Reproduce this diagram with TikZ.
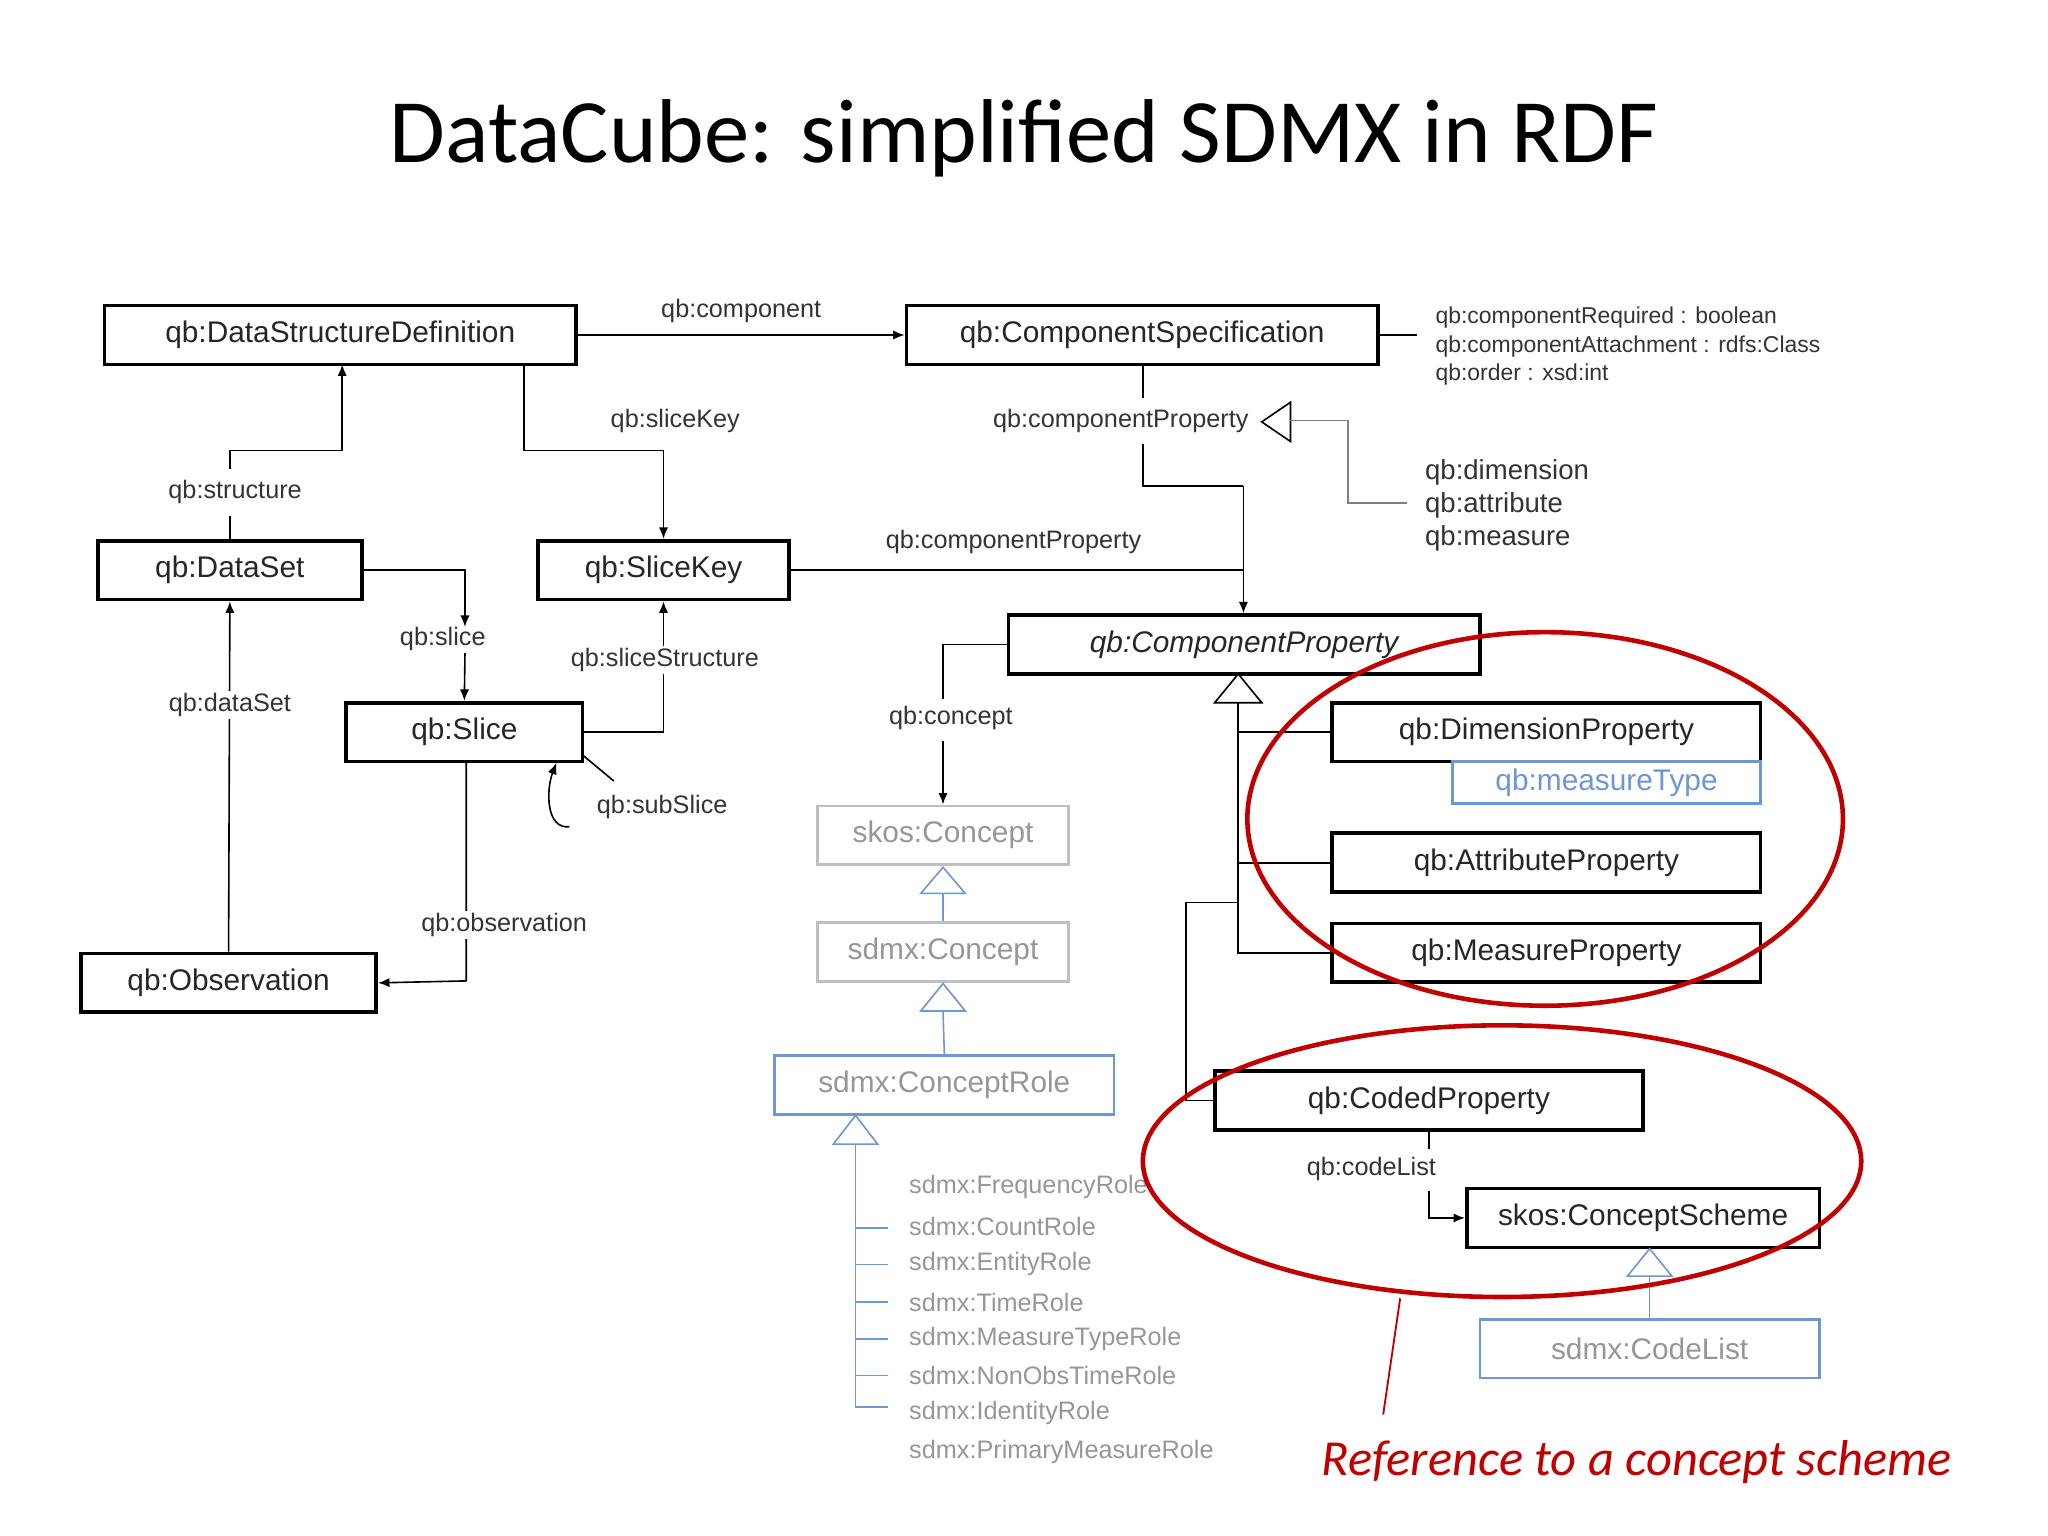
\documentclass[tikz,border=0pt]{standalone}
\usepackage{fontspec}
\setmainfont{Liberation Sans}
\newfontfamily\titlefont{Carlito}
\usetikzlibrary{arrows.meta}
\definecolor{rd}{RGB}{192,0,0}
\definecolor{bl}{RGB}{110,150,210}
\definecolor{gr}{RGB}{150,150,150}
\begin{document}
\begin{tikzpicture}[x=0.02cm,y=-0.02cm,
  box/.style={draw,line width=1.6pt,minimum height=0.9cm,inner sep=0pt,font=\fontsize{13}{15}\selectfont,text=black!85},
  gbox/.style={box,draw=black!25,text=gr,line width=1.2pt},
  bbox/.style={box,draw=bl,text=gr,line width=1.2pt},
  lbl/.style={font=\fontsize{11}{13}\selectfont,text=black!80,inner sep=1pt},
  ln/.style={line width=0.7pt},
  arr/.style={ln,-{Latex[length=5pt,width=4pt]}},
  tri/.style={ln,draw,fill=white}]
\useasboundingbox (0,0) rectangle (1568,1176);
\node[font=\titlefont\fontsize{39.5}{46}\selectfont] (title) at (784,106) {DataCube: simplified SDMX in RDF};
% boxes
\node[box,minimum width=7.22cm] (dsd) at (260.5,256.5) {qb:DataStructureDefinition};
\node[box,minimum width=7.22cm] (cs) at (874.5,256.5) {qb:ComponentSpecification};
\node[box,minimum width=4.04cm] (ds) at (176,436.5) {qb:DataSet};
\node[box,minimum width=3.84cm] (sk) at (508,436.5) {qb:SliceKey};
\node[box,minimum width=3.62cm] (sl) at (355.5,560.5) {qb:Slice};
\node[box,minimum width=4.52cm] (obs) at (175,752.5) {qb:Observation};
\node[box,minimum width=7.22cm,font=\fontsize{13}{15}\selectfont\itshape] (cp) at (952.5,493.5) {qb:ComponentProperty};
\node[box,minimum width=6.56cm] (dp) at (1184,560.5) {qb:DimensionProperty};
\node[box,draw=bl,text=bl,line width=1.2pt,minimum width=4.72cm,minimum height=0.64cm] (mt) at (1230,599) {qb:measureType};
\node[box,minimum width=6.56cm] (ap) at (1184,660.5) {qb:AttributeProperty};
\node[box,minimum width=6.56cm] (mp) at (1184,729.5) {qb:MeasureProperty};
\node[box,minimum width=6.56cm] (cdp) at (1094,842.5) {qb:CodedProperty};
\node[box,minimum width=5.4cm] (csch) at (1258,932.5) {skos:ConceptScheme};
\node[bbox,minimum width=5.2cm] (cl) at (1263,1032.5) {sdmx:CodeList};
\node[gbox,minimum width=3.84cm] (skc) at (722,639.5) {skos:Concept};
\node[gbox,minimum width=3.84cm] (sdc) at (722,729) {sdmx:Concept};
\node[bbox,minimum width=5.2cm] (cr) at (723,830.5) {sdmx:ConceptRole};
% attribute text
\node[lbl,anchor=west,align=left,font=\fontsize{10}{12.6}\selectfont] (attrs) at (1097,265) {qb:componentRequired : boolean\\qb:componentAttachment : rdfs:Class\\qb:order : xsd:int};
\draw[ln] (cs.east) -- (1085,256.5);
\node[lbl,anchor=west,align=left,font=\fontsize{12}{14.3}\selectfont] (cpk) at (1089,387) {qb:dimension\\qb:attribute\\qb:measure};
% connectors
\draw[arr] (dsd.east) -- (cs.west) node[lbl,midway,above=4pt] {qb:component};
\draw[ln] (875,279) -- (875,305);
\node[lbl,anchor=east] (cplab) at (958,322) {qb:componentProperty};
\draw[tri] (988,308) -- (988,338) -- (966,323) -- cycle;
\draw[ln] (875,340) -- (875,372) -- (952,372);
\draw[arr] (952,372) -- (cp.north-|952,0);
\draw[ln,draw=gray] (988,322) -- (1032,322) -- (1032,385) -- (1077,385);
\draw[arr] (401,279) -- (401,345) -- (508,345) -- (sk.north);
\node[lbl] (skl) at (517,322) {qb:sliceKey};
\draw[ln] (ds.north) -- (176,395);
\node[lbl] (stl) at (180,377) {qb:structure};
\draw[arr] (176,359) -- (176,345) -- (262,345) -- (262,279);
\draw[ln] (sk.east) -- (952,436.5);
\node[lbl] (cpl2) at (776,415) {qb:componentProperty};
\draw[arr] (ds.east) -- (356,436.5) -- (356,480);
\draw[arr] (356,500) -- (sl.north);
\node[lbl] (slab) at (339,489) {qb:slice};
\draw[arr] (sl.east) -- (508,560.5) -- (sk.south);
\node[lbl,fill=white] (ssl) at (509,505) {qb:sliceStructure};
\draw[ln] (446,578) -- (470,598);
\draw[arr] (436,633) .. controls (418,635) and (418,605) .. (426,584);
\node[lbl] (subl) at (507,618) {qb:subSlice};
\draw[arr] (obs.north) -- (ds.south);
\node[lbl,fill=white] (dsl) at (176,540) {qb:dataSet};
\draw[arr] (357,583) -- (357,751) -- (obs.east);
\node[lbl,fill=white] (obsl) at (386,708) {qb:observation};
% concept
\draw[ln] (cp.west) -- (722,493.5) -- (722,535);
\node[lbl] (conl) at (728,550) {qb:concept};
\draw[arr] (722,567) -- (skc.north);
\draw[tri,draw=bl] (722,664) -- (705,684) -- (739,684) -- cycle;
\draw[ln,draw=bl] (722,684) -- (sdc.north);
\draw[tri,draw=bl] (722,753) -- (705,774) -- (739,774) -- cycle;
\draw[ln,draw=bl] (722,774) -- (cr.north);
\draw[tri,draw=bl] (655,854) -- (638,876) -- (672,876) -- cycle;
\draw[ln,draw=bl] (655,876) -- (655,1077) -- (680,1077);
\foreach \y in {940,968,997,1025,1053} \draw[ln,draw=bl] (655,\y) -- (680,\y);
\foreach \t/\y in {FrequencyRole/909,CountRole/939,EntityRole/968,TimeRole/997,MeasureTypeRole/1025,NonObsTimeRole/1053,IdentityRole/1082,PrimaryMeasureRole/1112}
  \node[lbl,anchor=west,text=gr] at (694,\y) {sdmx:\t};
% subclass
\draw[tri] (948,516) -- (930,538) -- (966,538) -- cycle;
\draw[ln] (948,538) -- (948,729.5) -- (mp.west);
\draw[ln] (948,560.5) -- (dp.west);
\draw[ln] (948,660.5) -- (ap.west);
\draw[ln] (948,691) -- (908,691) -- (908,842.5) -- (cdp.west);
\draw[ln] (cdp.south) -- (1094,880);
\node[lbl] (cll) at (1050,895) {qb:codeList};
\draw[arr] (1094,912) -- (1094,932.5) -- (csch.west);
\draw[tri,draw=bl] (1263,956) -- (1246,977) -- (1280,977) -- cycle;
\draw[ln,draw=bl] (1263,977) -- (cl.north);
% red annotation
\draw[rd,line width=2pt] (1183,627) ellipse [x radius=228,y radius=143];
\draw[rd,line width=2pt] (1150,889) ellipse [x radius=275,y radius=104];
\draw[rd,line width=0.8pt] (1072,994) -- (1059,1083);
\node[text=rd,font=\titlefont\itshape\fontsize{22}{26}\selectfont] (ref) at (1253,1119) {Reference to a concept scheme};
\end{tikzpicture}
\end{document}
